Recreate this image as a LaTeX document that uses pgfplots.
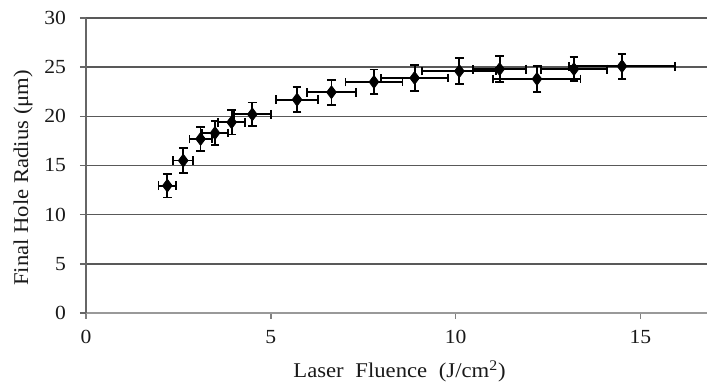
\documentclass[border=0pt]{standalone}
\usepackage{pgfplots}
\pgfplotsset{compat=1.18}
\usepackage{pgfplotstable}
\usepackage{fontspec}
\setmainfont{Liberation Serif}
\newfontfamily\wideserif[FakeStretch=1.08]{Liberation Serif}
\pgfplotstableread{
x y ex ey
2.20 12.95 0.24 1.20
2.63 15.50 0.27 1.30
3.10 17.70 0.30 1.25
3.49 18.30 0.35 1.20
3.94 19.40 0.37 1.25
4.50 20.20 0.50 1.20
5.71 21.70 0.56 1.30
6.64 22.45 0.67 1.27
7.79 23.50 0.77 1.27
8.89 23.90 0.90 1.30
10.10 24.60 1.00 1.30
11.19 24.80 0.72 1.30
12.20 23.80 1.18 1.35
13.20 24.80 0.90 1.20
14.50 25.10 1.44 1.27
}\datatable
\begin{document}
\begin{tikzpicture}
\begin{axis}[
  name=ax,
  scale only axis,
  width=310.5pt, height=147.5pt,
  xmin=0, xmax=16.8, ymin=0, ymax=30,
  xtick={0,5,10,15}, ytick={0,5,...,30},
  axis x line*=bottom, axis y line*=left,
  x axis line style={draw=black!40, line width=0.9pt, -},
  y axis line style={draw=black!60, line width=0.9pt, -},
  tick align=outside,
  x tick style={draw=black!50, line width=0.7pt},
  y tick style={draw=black!60, line width=0.7pt},
  major tick length=3pt,
  ymajorgrids,
  grid style={draw=black!65, line width=0.8pt},
  /pgf/number format/assume math mode=true,
  ticklabel style={font=\wideserif\fontsize{10}{12}\selectfont, text=black!90},
  xticklabel style={yshift=-2pt},
  yticklabel style={xshift=-3.5pt},
  xlabel={Laser\hspace{3pt} Fluence\hspace{3pt} (J/cm\textsuperscript{2})},
  ylabel={Final Hole Radius (μm)},
  label style={font=\wideserif\fontsize{10.5}{12}\selectfont, text=black!90},
  xlabel style={at={(axis description cs:0.505,0)}, anchor=base, yshift=-32.5pt},
  ylabel style={at={(axis description cs:-0.1014,0.458)}, anchor=center},
  clip=false,
]
\addplot[only marks, black, mark=diamond*, mark size=3.2pt,
  error bars/.cd,
    x dir=both, x explicit,
    y dir=both, y explicit,
    error bar style={line width=0.9pt, black},
    error mark options={line width=0.9pt, black, mark size=2.2pt, rotate=90},
] table[x=x, y=y, x error=ex, y error=ey] {\datatable};
\end{axis}
\pgfresetboundingbox
\path ([xshift=-43pt,yshift=-34.5pt]ax.south west) rectangle ([yshift=9pt]ax.north east);
\end{tikzpicture}
\end{document}
